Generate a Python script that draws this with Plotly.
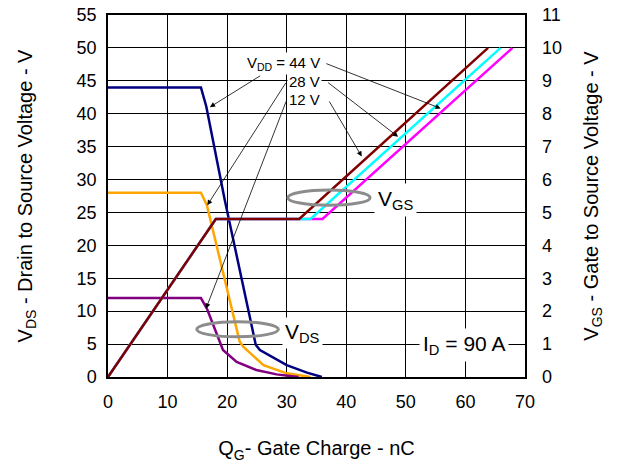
import plotly.graph_objects as go

# Gate charge (nC) and VDS (V) for the three supply voltages
qg_vds_44 = [0, 15.6, 16.5, 19.6, 24.8, 25.5, 30.0, 33.4, 35.9]
vds_44 = [44, 44, 41.1, 26.9, 4.9, 4.1, 1.8, 0.66, 0]
qg_vds_28 = [0, 15.6, 16.6, 22.1, 22.7, 26.1, 30.0, 34.0]
vds_28 = [28, 28, 26.1, 5.4, 4.6, 1.8, 0.56, 0]
qg_vds_12 = [0, 15.6, 16.6, 19.3, 21.6, 24.9, 28.3, 32.0]
vds_12 = [12, 12, 10.4, 4.1, 2.3, 1.06, 0.4, 0]

# Gate charge (nC) and VGS (V)
qg_vgs_44 = [0, 18.1, 36.0, 67.9]
vgs_44 = [0, 4.8, 4.8, 10.0]
qg_vgs_28 = [0, 18.1, 34.0, 65.9]
vgs_28 = [0, 4.8, 4.8, 10.0]
qg_vgs_12 = [0, 18.1, 32.1, 63.8]
vgs_12 = [0, 4.8, 4.8, 10.0]

x_ticks = [0, 10, 20, 30, 40, 50, 60, 70]
vds_ticks = list(range(0, 56, 5))
vgs_ticks = list(range(0, 12))

FONT = "Liberation Sans, Arial, sans-serif"

fig = go.Figure()
lw = 2.5
fig.add_trace(go.Scatter(x=qg_vds_44, y=vds_44, mode="lines", line=dict(color="#000080", width=lw), yaxis="y"))
fig.add_trace(go.Scatter(x=qg_vds_28, y=vds_28, mode="lines", line=dict(color="#FFA500", width=lw), yaxis="y"))
fig.add_trace(go.Scatter(x=qg_vds_12, y=vds_12, mode="lines", line=dict(color="#800080", width=lw), yaxis="y"))
fig.add_trace(go.Scatter(x=qg_vgs_44, y=vgs_44, mode="lines", line=dict(color="#FF00FF", width=lw), yaxis="y2"))
fig.add_trace(go.Scatter(x=qg_vgs_28, y=vgs_28, mode="lines", line=dict(color="#00FFFF", width=lw), yaxis="y2"))
fig.add_trace(go.Scatter(x=qg_vgs_12, y=vgs_12, mode="lines", line=dict(color="#800000", width=lw), yaxis="y2"))

annotations = []
# arrows (head x,y ; tail ax,ay) in data coordinates of left axis
arrows = [
    (17.1, 41.0, 25.8, 45.9),
    (55.85, 40.8, 36.4, 47.7),
    (16.67, 26.1, 30.0, 44.9),
    (48.7, 36.5, 36.7, 44.9),
    (16.45, 10.4, 30.0, 42.1),
    (42.6, 33.5, 37.0, 42.1),
]
for hx, hy, tx, ty in arrows:
    annotations.append(dict(x=hx, y=hy, ax=tx, ay=ty, xref="x", yref="y", axref="x", ayref="y",
                            text="", showarrow=True, arrowhead=2, arrowsize=1.3, arrowwidth=0.8,
                            arrowcolor="black"))

def txt(x, y, s, size, xanchor="left", pad=1):
    annotations.append(dict(x=x, y=y, xref="x", yref="y", text=s, showarrow=False,
                            xanchor=xanchor, yanchor="middle", bgcolor="white", borderpad=pad,
                            font=dict(family=FONT, size=size, color="black")))

txt(35.9, 47.7, "V<sub>DD</sub> = 44 V", 15, "right")
txt(35.9, 44.9, "28 V", 15, "right")
txt(35.9, 42.1, "12 V", 15, "right")
txt(44.6, 26.9, "V<sub>GS</sub>", 21, "left", 3)
txt(29.2, 6.7, "V<sub>DS</sub>", 21, "left", 2)
txt(52.2, 4.86, "I<sub>D</sub> = 90 A", 21, "left", 3)

shapes = [
    dict(type="circle", xref="x", yref="y", x0=30.2, x1=44.0, y0=26.1, y1=28.4,
         line=dict(color="#8c8c8c", width=3)),
    dict(type="circle", xref="x", yref="y", x0=14.9, x1=28.6, y0=6.1, y1=8.4,
         line=dict(color="#8c8c8c", width=3)),
]

fig.update_layout(
    width=620, height=468,
    margin=dict(l=108, r=95, t=15, b=91),
    paper_bgcolor="white", plot_bgcolor="white",
    showlegend=False,
    font=dict(family=FONT, size=18, color="black"),
    annotations=annotations,
    shapes=shapes,
    xaxis=dict(range=[0, 70], tickvals=x_ticks, showgrid=True, gridcolor="black", gridwidth=1,
               showline=True, linecolor="black", linewidth=1.5, mirror=True, zeroline=False,
               ticks="", ticklabelstandoff=8, tickfont=dict(size=18), automargin=False,
               title=dict(text="Q<sub>G</sub>- Gate Charge - nC", font=dict(size=20), standoff=30)),
    yaxis=dict(range=[0, 55], tickvals=vds_ticks, showgrid=True, gridcolor="black", gridwidth=1,
               showline=True, linecolor="black", linewidth=1.5, mirror=True, zeroline=False,
               ticks="", ticklabelstandoff=6, tickfont=dict(size=18), automargin=False,
               title=dict(text="V<sub>DS</sub> - Drain to Source Voltage - V", font=dict(size=20), standoff=39)),
    yaxis2=dict(range=[0, 11], tickvals=vgs_ticks, overlaying="y", side="right", showgrid=False,
                zeroline=False, showline=False, ticks="", ticklabelstandoff=16, tickfont=dict(size=18),
                automargin=False,
                title=dict(text="V<sub>GS</sub> - Gate to Source Voltage - V", font=dict(size=20), standoff=22)),
)

fig.write_html("out.html")
